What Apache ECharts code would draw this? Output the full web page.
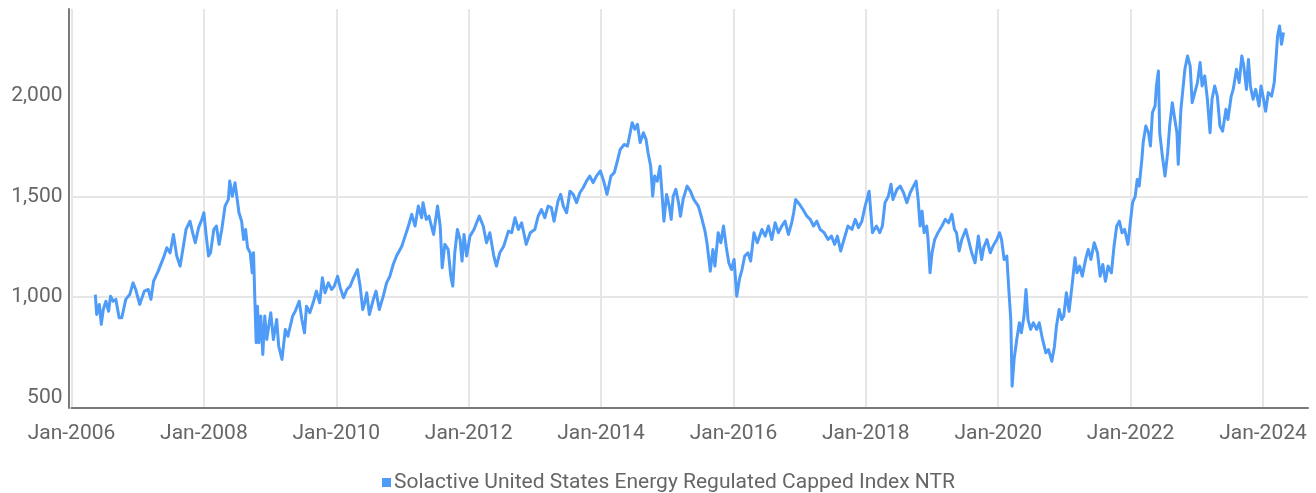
<!DOCTYPE html>
<html>
<head>
<meta charset="utf-8">
<script src="https://cdn.jsdelivr.net/npm/echarts@6/dist/echarts.min.js"></script>
<style>
html,body{margin:0;padding:0;background:#fff;}
#chart{width:1316px;height:493px;}
</style>
</head>
<body>
<div id="chart"></div>
<script>
// Decimal-year time stamps of the index readings
const dates = [
2006.36,2006.38,2006.42,2006.45,2006.48,2006.52,2006.56,2006.59,2006.63,2006.67,2006.72,2006.76,2006.82,2006.88,2006.93,2006.97,
2007.03,2007.10,2007.16,2007.20,2007.24,2007.31,2007.39,2007.44,2007.49,2007.54,2007.59,2007.64,2007.69,2007.73,2007.79,2007.83,2007.87,2007.92,2007.97,
2008.00,2008.03,2008.07,2008.10,2008.15,2008.19,2008.23,2008.27,2008.32,2008.37,2008.39,2008.43,2008.47,2008.50,2008.53,2008.57,2008.60,2008.63,2008.66,2008.70,2008.73,2008.75,2008.77,2008.79,2008.81,2008.83,2008.86,2008.89,2008.92,2008.95,
2009.01,2009.05,2009.10,2009.13,2009.18,2009.23,2009.27,2009.34,2009.38,2009.44,2009.48,2009.52,2009.55,2009.60,2009.65,2009.70,2009.75,2009.79,2009.83,2009.88,2009.93,2009.97,
2010.02,2010.06,2010.11,2010.16,2010.21,2010.25,2010.28,2010.32,2010.36,2010.40,2010.43,2010.46,2010.50,2010.56,2010.60,2010.65,2010.71,2010.76,2010.81,2010.86,2010.91,2010.99,
2011.04,2011.09,2011.14,2011.19,2011.24,2011.29,2011.31,2011.36,2011.40,2011.47,2011.53,2011.57,2011.60,2011.64,2011.69,2011.73,2011.76,2011.79,2011.83,2011.87,2011.90,2011.93,2011.97,
2012.02,2012.08,2012.16,2012.22,2012.27,2012.32,2012.38,2012.42,2012.47,2012.53,2012.60,2012.65,2012.70,2012.75,2012.80,2012.87,2012.93,
2013.00,2013.05,2013.10,2013.15,2013.20,2013.25,2013.29,2013.35,2013.39,2013.43,2013.48,2013.53,2013.58,2013.63,2013.68,2013.73,2013.78,2013.83,2013.88,2013.93,2013.99,
2014.04,2014.09,2014.15,2014.20,2014.24,2014.29,2014.35,2014.40,2014.44,2014.47,2014.51,2014.55,2014.59,2014.64,2014.68,2014.71,2014.75,2014.78,2014.81,2014.85,2014.89,2014.92,2014.95,2014.99,
2015.03,2015.06,2015.09,2015.13,2015.17,2015.20,2015.24,2015.30,2015.35,2015.40,2015.47,2015.52,2015.57,2015.60,2015.65,2015.69,2015.72,2015.77,2015.81,2015.85,2015.89,2015.93,2015.97,
2016.01,2016.05,2016.09,2016.13,2016.17,2016.22,2016.26,2016.31,2016.36,2016.43,2016.48,2016.53,2016.58,2016.63,2016.68,2016.73,2016.78,2016.83,2016.88,2016.91,2016.94,
2017.00,2017.05,2017.11,2017.16,2017.21,2017.26,2017.31,2017.37,2017.43,2017.48,2017.53,2017.57,2017.62,2017.67,2017.73,2017.79,2017.84,2017.89,2017.94,2017.99,
2018.05,2018.10,2018.16,2018.21,2018.25,2018.29,2018.34,2018.38,2018.41,2018.47,2018.52,2018.57,2018.62,2018.67,2018.72,2018.76,2018.79,2018.82,2018.85,2018.88,2018.92,2018.94,2018.97,
2019.00,2019.04,2019.09,2019.15,2019.20,2019.25,2019.30,2019.34,2019.37,2019.41,2019.45,2019.51,2019.55,2019.60,2019.65,2019.70,2019.75,2019.78,2019.83,2019.88,2019.92,2019.98,
2020.02,2020.05,2020.09,2020.13,2020.16,2020.19,2020.21,2020.24,2020.28,2020.32,2020.35,2020.39,2020.42,2020.45,2020.49,2020.53,2020.58,2020.62,2020.67,2020.72,2020.76,2020.81,2020.85,2020.88,2020.92,2020.96,2020.99,
2021.03,2021.07,2021.12,2021.16,2021.19,2021.23,2021.27,2021.32,2021.36,2021.40,2021.45,2021.50,2021.54,2021.58,2021.62,2021.66,2021.71,2021.75,2021.79,2021.83,2021.87,2021.91,2021.96,2021.99,
2022.03,2022.07,2022.10,2022.13,2022.17,2022.19,2022.23,2022.27,2022.30,2022.33,2022.37,2022.39,2022.42,2022.44,2022.48,2022.52,2022.56,2022.59,2022.63,2022.66,2022.70,2022.72,2022.76,2022.79,2022.82,2022.86,2022.90,2022.93,2022.97,
2023.01,2023.05,2023.08,2023.12,2023.16,2023.20,2023.23,2023.27,2023.31,2023.35,2023.39,2023.44,2023.47,2023.52,2023.55,2023.60,2023.64,2023.68,2023.71,2023.75,2023.78,2023.81,2023.85,2023.89,2023.94,2023.97,
2024.00,2024.04,2024.08,2024.13,2024.17,2024.20,2024.22,2024.25,2024.28,2024.31
];
// Index level (NTR)
const values = [
1013,914,964,865,939,980,930,1005,980,989,898,898,989,1013,1071,1038,
964,1030,1038,989,1079,1129,1196,1245,1220,1311,1204,1154,1253,1336,1377,1320,1270,1345,1386,
1419,1320,1204,1220,1336,1353,1262,1336,1452,1485,1576,1501,1568,1560,1419,1377,1286,1336,1245,1220,1121,1220,989,774,955,774,906,716,906,790,
923,790,889,757,691,840,806,906,930,980,889,823,955,923,972,1030,972,1096,1022,1071,1038,1055,
1104,1047,997,1038,1055,1088,1096,1137,1055,939,972,1022,914,989,1030,939,1005,1071,1104,1162,1204,1253,
1303,1353,1411,1353,1452,1394,1469,1386,1402,1311,1452,1353,1146,1262,1237,1104,1055,1220,1336,1286,1179,1311,1204,
1303,1336,1402,1353,1270,1320,1204,1154,1220,1253,1328,1320,1394,1336,1369,1262,1320,
1336,1402,1435,1394,1452,1444,1377,1477,1510,1452,1419,1526,1510,1469,1518,1543,1576,1601,1568,1601,1626,
1576,1510,1601,1618,1667,1733,1758,1750,1816,1866,1833,1858,1767,1816,1783,1717,1650,1501,1601,1576,1650,1518,1377,1510,
1452,1386,1501,1535,1469,1402,1485,1551,1526,1485,1452,1394,1328,1270,1129,1237,1154,1320,1270,1353,1253,1171,1137,
1187,1005,1088,1137,1204,1220,1179,1320,1270,1336,1303,1353,1286,1369,1320,1353,1377,1311,1369,1419,1485,
1460,1435,1402,1386,1353,1377,1336,1320,1286,1303,1262,1303,1229,1286,1353,1336,1386,1345,1377,1452,
1526,1320,1353,1320,1353,1469,1501,1560,1485,1535,1551,1518,1469,1518,1551,1576,1485,1353,1427,1320,1353,1286,1121,
1220,1286,1320,1353,1386,1369,1411,1336,1320,1229,1286,1336,1286,1220,1171,1303,1187,1245,1286,1220,1253,1286,
1320,1286,1187,1204,1038,889,558,691,790,873,823,906,1038,889,840,873,840,873,790,724,740,682,757,856,939,889,906,
1022,930,1071,1196,1121,1154,1104,1187,1237,1187,1270,1220,1104,1162,1079,1154,1121,1253,1353,1377,1320,1336,1262,1353,
1469,1501,1584,1551,1684,1767,1849,1816,1750,1916,1949,2048,2122,1816,1700,1601,1717,1849,1965,1899,1816,1659,1932,2031,2131,2197,2147,1965,2015,
2065,2164,2048,2098,1982,1816,1982,2048,1998,1849,1824,1932,1882,1998,2031,2131,2065,2197,2147,2031,2180,2048,1982,2031,1949,2048,
1998,1923,2015,1998,2065,2197,2296,2346,2255,2313
];
const seriesName = 'Solactive United States Energy Regulated Capped Index NTR';
const xTicks = [2006, 2008, 2010, 2012, 2014, 2016, 2018, 2020, 2022, 2024];
const yTicks = [500, 1000, 1500, 2000];

const FONT = "Roboto, 'Liberation Sans', sans-serif";
const fmtNum = v => String(v).replace(/\B(?=(\d{3})+(?!\d))/g, ',');

const chart = echarts.init(document.getElementById('chart'), null, {renderer: 'canvas'});
chart.setOption({
  animation: false,
  backgroundColor: '#ffffff',
  grid: {left: 71.5, right: 8, top: 9, bottom: 85, containLabel: false},
  legend: {
    data: [seriesName],
    left: 377, top: 467,
    icon: 'rect', itemWidth: 9, itemHeight: 9, itemGap: 6,
    textStyle: {fontFamily: FONT, fontSize: 21, color: '#666666', padding: [0, 0, 0, -2]}
  },
  xAxis: {
    type: 'value',
    min: 2006, max: 2024.68, interval: 2,
    axisLine: {show: true, lineStyle: {color: '#7a7a7a', width: 2}},
    axisTick: {show: false},
    axisLabel: {
      margin: 15, fontFamily: FONT, fontSize: 21, color: '#666666',
      customValues: xTicks,
      formatter: v => 'Jan-' + Math.round(v)
    },
    splitLine: {show: true, showMinLine: true, showMaxLine: false, lineStyle: {color: '#e6e6e6', width: 2}}
  },
  yAxis: {
    type: 'value',
    min: 450, max: 2430,
    offset: 3,
    axisLine: {show: true, lineStyle: {color: '#7a7a7a', width: 2}},
    axisTick: {show: false, customValues: yTicks},
    axisLabel: {
      margin: 6, fontFamily: FONT, fontSize: 21, color: '#666666',
      customValues: yTicks,
      formatter: v => fmtNum(v)
    },
    splitLine: {show: true, showMinLine: false, showMaxLine: false, lineStyle: {color: '#e6e6e6', width: 2}}
  },
  series: [{
    name: seriesName,
    type: 'line',
    showSymbol: false,
    symbol: 'none',
    color: '#4e9bf8',
    lineStyle: {width: 3, color: '#4e9bf8', join: 'round'},
    data: dates.map((d, i) => [d, values[i]])
  }]
});
</script>
</body>
</html>
